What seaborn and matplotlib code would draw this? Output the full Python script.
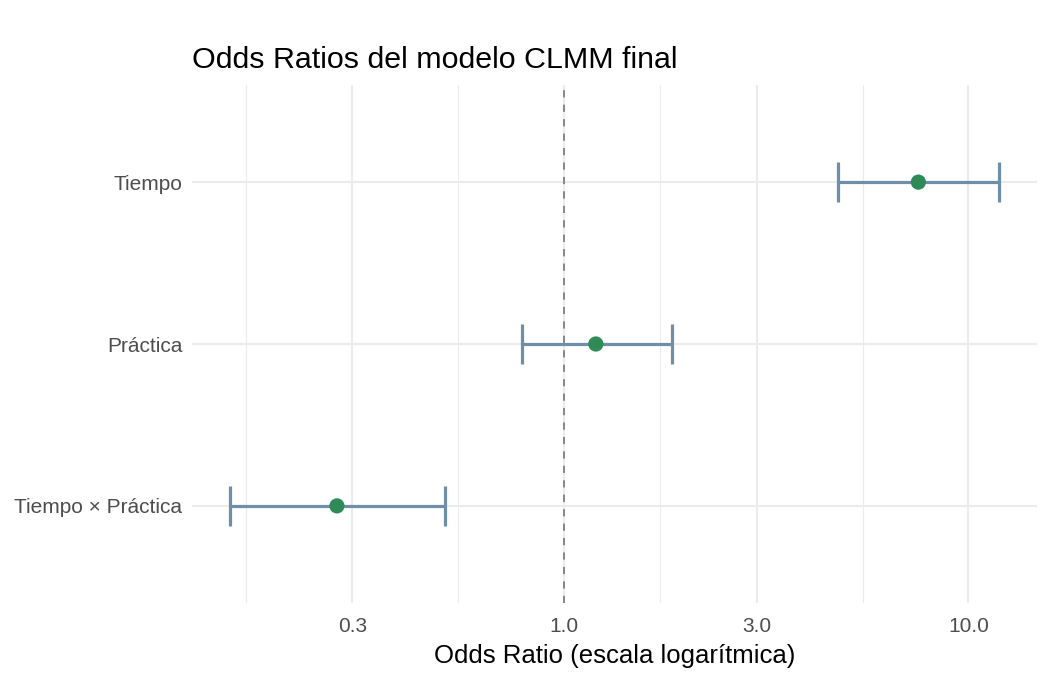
import numpy as np
import pandas as pd
import seaborn as sns
import matplotlib.pyplot as plt
from matplotlib.ticker import FixedLocator, NullFormatter

# datos del modelo (de abajo hacia arriba)
terms = ["Tiempo × Práctica", "Práctica", "Tiempo"]
odds_ratio = [0.275, 1.20, 7.52]
ci_low = [0.150, 0.787, 4.76]
ci_high = [0.509, 1.85, 11.87]
x_breaks = [0.3, 1.0, 3.0, 10.0]
x_labels = ["0.3", "1.0", "3.0", "10.0"]

df = pd.DataFrame({
    "term": terms,
    "pos": np.arange(len(terms)),
    "odds": odds_ratio,
    "low": ci_low,
    "high": ci_high,
})

sns.set_theme(style="white")
plt.rcParams['font.family'] = ['Liberation Sans', 'DejaVu Sans']

fig = plt.figure(figsize=(10.5, 6.94), dpi=100)
ax = fig.add_axes([192 / 1050, 1 - 603 / 694, (1037 - 192) / 1050, (603 - 85) / 694])

# línea de referencia en OR = 1
ax.axvline(1.0, color="#7F7F7F", linestyle=(0, (4, 4)), linewidth=1.3, zorder=1)

# intervalos de confianza
ax.errorbar(
    x=df["odds"], y=df["pos"],
    xerr=[df["odds"] - df["low"], df["high"] - df["odds"]],
    fmt="none", ecolor="#6F8FA8", elinewidth=2.3, capsize=14.4, capthick=2.3, zorder=2,
)

# puntos
sns.scatterplot(data=df, x="odds", y="pos", color="#2E8B57", s=120, edgecolor="none",
                ax=ax, zorder=3, legend=False)

# escala logarítmica con expansión de 5%
ax.set_xscale("log")
lo, hi = np.log10(min(ci_low)), np.log10(max(ci_high))
span = hi - lo
ax.set_xlim(10 ** (lo - 0.05 * span), 10 ** (hi + 0.05 * span))
ax.set_ylim(-0.6, len(terms) - 0.4)

logb = np.log10(x_breaks)
minor = [logb[0] - (logb[1] - logb[0]) / 2] + list((logb[:-1] + logb[1:]) / 2)
ax.xaxis.set_major_locator(FixedLocator(x_breaks))
ax.set_xticklabels(x_labels)
ax.xaxis.set_minor_locator(FixedLocator(10 ** np.array(minor)))
ax.xaxis.set_minor_formatter(NullFormatter())
ax.set_yticks(df["pos"], terms)

ax.grid(which="major", color="#EBEBEB", linewidth=1.5)
ax.grid(which="minor", axis="x", color="#EBEBEB", linewidth=0.8)
ax.set_axisbelow(True)
for s in ax.spines.values():
    s.set_visible(False)
ax.tick_params(axis="both", which="both", length=0, labelsize=15, labelcolor="#4D4D4D")
ax.tick_params(axis="x", pad=10)
ax.tick_params(axis="y", pad=7)

ax.set_xlabel("Odds Ratio (escala logarítmica)", fontsize=18.5, color="black", labelpad=6)
ax.set_ylabel("")
ax.set_title("Odds Ratios del modelo CLMM final", loc="left", fontsize=21.9, color="black",
             pad=12)

plt.savefig("out.png", dpi=100)
plt.close()
